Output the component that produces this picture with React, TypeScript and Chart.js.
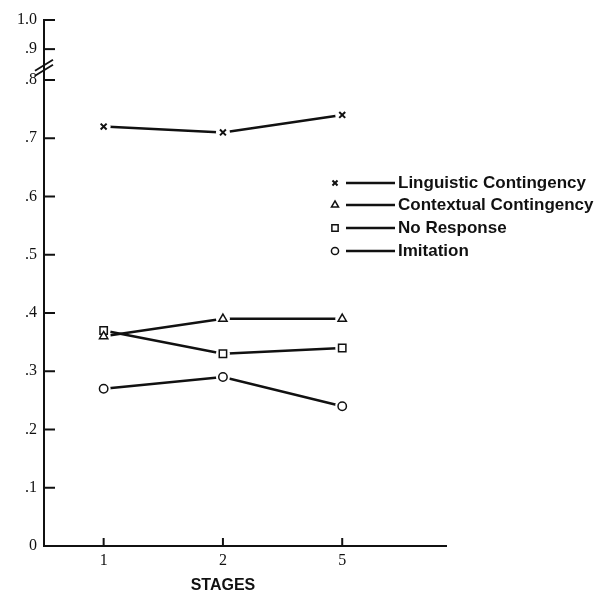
import React, { useEffect, useRef } from 'react';
import { Chart, registerables } from 'chart.js';

Chart.register(...registerables);

const stageLabels = ['1', '2', '5'];
const stagePositions = [1, 2, 3];
const seriesNames = ['Linguistic Contingency', 'Contextual Contingency', 'No Response', 'Imitation'];
const linguistic = [0.72, 0.71, 0.74];
const contextual = [0.36, 0.39, 0.39];
const noResponse = [0.37, 0.33, 0.34];
const imitation = [0.27, 0.29, 0.24];
// display positions of the y ticks (axis is broken above .8)
const yTickValues = [0, 0.1, 0.2, 0.3, 0.4, 0.5, 0.6, 0.7, 0.8, 0.853, 0.903];
const yTickLabels = ['0', '.1', '.2', '.3', '.4', '.5', '.6', '.7', '.8', '.9', '1.0'];
const markerStyles = ['crossRot', 'triangle', 'rect', 'circle'];
const markerRadii = [4.2, 4.8, 5.2, 4.2];

const INK = '#111';
const SERIF = '"Liberation Serif", "Times New Roman", serif';
const SANS = '"Liberation Sans", Arial, Helvetica, sans-serif';

function drawMarker(ctx: CanvasRenderingContext2D, style: string, x: number, y: number, r: number) {
  ctx.beginPath();
  if (style === 'crossRot') {
    const s = r * Math.SQRT1_2;
    ctx.moveTo(x - s, y - s);
    ctx.lineTo(x + s, y + s);
    ctx.moveTo(x + s, y - s);
    ctx.lineTo(x - s, y + s);
    ctx.lineWidth = 2;
    ctx.stroke();
    return;
  }
  if (style === 'triangle') {
    const h = (r * Math.sqrt(3)) / 2;
    ctx.moveTo(x, y - r);
    ctx.lineTo(x + h, y + r / 2);
    ctx.lineTo(x - h, y + r / 2);
    ctx.closePath();
  } else if (style === 'rect') {
    const s = r * Math.SQRT1_2;
    ctx.rect(x - s, y - s, 2 * s, 2 * s);
  } else {
    ctx.arc(x, y, r, 0, Math.PI * 2);
  }
  ctx.fillStyle = '#fff';
  ctx.fill();
  ctx.lineWidth = 1.5;
  ctx.stroke();
}

const decorPlugin = {
  id: 'decor',
  afterDraw(chart: any) {
    const { ctx, chartArea, scales } = chart;
    const xs = scales.x;
    const ys = scales.y;
    ctx.save();
    ctx.strokeStyle = INK;
    ctx.fillStyle = INK;
    ctx.lineWidth = 2;
    // inward y ticks
    yTickValues.forEach((v) => {
      if (v === 0) return;
      const py = ys.getPixelForValue(v);
      ctx.beginPath();
      ctx.moveTo(chartArea.left, py);
      ctx.lineTo(chartArea.left + 11, py);
      ctx.stroke();
    });
    // inward x ticks
    stagePositions.forEach((v) => {
      const px = xs.getPixelForValue(v);
      ctx.beginPath();
      ctx.moveTo(px, chartArea.bottom);
      ctx.lineTo(px, chartArea.bottom - 8);
      ctx.stroke();
    });
    // axis break marks
    const by = ys.getPixelForValue(0.821);
    ctx.lineWidth = 1.8;
    [-2.5, 2.5].forEach((off) => {
      ctx.beginPath();
      ctx.moveTo(chartArea.left - 9, by + off + 5.5);
      ctx.lineTo(chartArea.left + 9, by + off - 5.5);
      ctx.stroke();
    });
    // legend
    const rows = [183, 205, 228, 251];
    ctx.font = `bold 17px ${SANS}`;
    ctx.textAlign = 'left';
    ctx.textBaseline = 'middle';
    seriesNames.forEach((name, i) => {
      const ry = rows[i];
      ctx.strokeStyle = INK;
      drawMarker(ctx, markerStyles[i], 335, ry, markerRadii[i] * 0.85);
      ctx.beginPath();
      ctx.lineWidth = 2.5;
      ctx.moveTo(346, ry);
      ctx.lineTo(395, ry);
      ctx.stroke();
      ctx.fillStyle = INK;
      ctx.fillText(name, 398, ry + 0.5);
    });
    // x axis title
    ctx.font = `bold 16px ${SANS}`;
    ctx.textAlign = 'center';
    ctx.fillText('STAGES', xs.getPixelForValue(2), 586);
    ctx.restore();
  },
};

export default function App() {
  const canvasRef = useRef<HTMLCanvasElement | null>(null);

  useEffect(() => {
    if (!canvasRef.current) return;
    const series = [linguistic, contextual, noResponse, imitation];
    const lineSets = series.map((vals, i) => ({
      label: seriesNames[i],
      data: vals.map((v, j) => ({ x: stagePositions[j], y: v })),
      borderColor: INK,
      borderWidth: 2.5,
      tension: 0,
      pointStyle: 'circle',
      pointRadius: 7,
      pointBackgroundColor: '#fff',
      pointBorderColor: '#fff',
      pointBorderWidth: 0,
      order: 2,
    }));
    const markerSets = series.map((vals, i) => ({
      label: seriesNames[i] + ' markers',
      data: vals.map((v, j) => ({ x: stagePositions[j], y: v })),
      showLine: false,
      pointStyle: markerStyles[i],
      pointRadius: markerRadii[i],
      pointBackgroundColor: '#fff',
      pointBorderColor: INK,
      pointBorderWidth: i === 0 ? 2 : 1.5,
      order: 1,
    }));

    const chart = new Chart(canvasRef.current, {
      type: 'line',
      data: { datasets: [...lineSets, ...markerSets] as any },
      plugins: [decorPlugin],
      options: {
        animation: false,
        responsive: true,
        maintainAspectRatio: false,
        events: [],
        layout: { padding: { left: 0, top: 20, right: 148, bottom: 0 } },
        plugins: { legend: { display: false }, tooltip: { enabled: false } },
        scales: {
          x: {
            type: 'linear',
            min: 0.5,
            max: 3.87,
            grid: { display: false, drawTicks: false },
            border: { display: true, color: INK, width: 2 },
            afterBuildTicks: (scale: any) => {
              scale.ticks = stagePositions.map((v) => ({ value: v }));
            },
            afterFit: (scale: any) => {
              scale.height = 48;
            },
            ticks: {
              autoSkip: false,
              maxRotation: 0,
              padding: 5,
              color: INK,
              font: { family: SERIF, size: 16 },
              callback: (_v: any, idx: number) => stageLabels[idx],
            },
          },
          y: {
            type: 'linear',
            min: 0,
            max: 0.903,
            grid: { display: false, drawTicks: false },
            border: { display: true, color: INK, width: 2 },
            afterBuildTicks: (scale: any) => {
              scale.ticks = yTickValues.map((v) => ({ value: v }));
            },
            afterFit: (scale: any) => {
              scale.width = 44;
            },
            ticks: {
              autoSkip: false,
              padding: 7,
              color: INK,
              font: { family: SERIF, size: 16 },
              callback: (_v: any, idx: number) => yTickLabels[idx],
            },
          },
        },
      },
    });
    return () => chart.destroy();
  }, []);

  return (
    <div style={{ position: 'fixed', left: 0, top: 0, width: 594, height: 594, background: '#fff' }}>
      <canvas ref={canvasRef} />
    </div>
  );
}
